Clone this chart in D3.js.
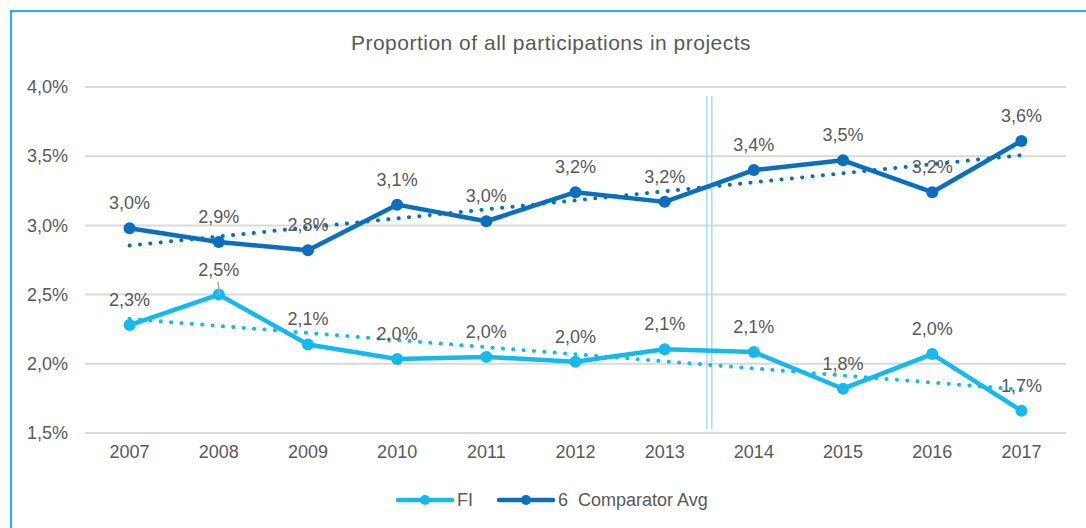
<!DOCTYPE html>
<html>
  <head>
    <meta charset="utf-8">
    <title>Proportion of all participations in projects</title>
    <style type="text/css">
      body {
        margin: 0;
        background: #fff;
        font-family: "Liberation Sans", Arial, sans-serif;
      }
      svg text {
        fill: #595959;
      }
      .grid line {
        stroke: #d9d9d9;
        stroke-width: 2px;
      }
      .tick-label {
        font-size: 18px;
      }
      .data-label {
        font-size: 18px;
      }
      .title {
        font-size: 21px;
        letter-spacing: 0.5px;
      }
    </style>
  </head>
  <body>
    <script src="https://cdn.jsdelivr.net/npm/d3@7"></script>
    <script>
    // data
    var years = ["2007", "2008", "2009", "2010", "2011", "2012", "2013", "2014", "2015", "2016", "2017"];
    var fiValues = [2.28, 2.50, 2.14, 2.035, 2.05, 2.015, 2.105, 2.085, 1.82, 2.07, 1.66];
    var fiLabels = ["2,3%", "2,5%", "2,1%", "2,0%", "2,0%", "2,0%", "2,1%", "2,1%", "1,8%", "2,0%", "1,7%"];
    var compValues = [2.98, 2.88, 2.82, 3.15, 3.03, 3.24, 3.17, 3.40, 3.47, 3.24, 3.61];
    var compLabels = ["3,0%", "2,9%", "2,8%", "3,1%", "3,0%", "3,2%", "3,2%", "3,4%", "3,5%", "3,2%", "3,6%"];
    var yTicks = [1.5, 2.0, 2.5, 3.0, 3.5, 4.0];
    var seriesNames = ["FI", "6  Comparator Avg"];
    var seriesColors = ["#14b9ee", "#0a6fbe"];

    var W = 1086, H = 528;

    var x = d3.scaleBand()
        .domain(years)
        .range([85, 1066]);

    var y = d3.scaleLinear()
        .domain([1.5, 4.0])
        .range([433, 87]);

    var cx = function(d, i) { return x(years[i]) + x.bandwidth() / 2; };

    var svg = d3.select("body").append("svg")
        .attr("width", W)
        .attr("height", H);

    // outer frame (runs off the right and bottom edges)
    svg.append("rect")
        .attr("x", 11).attr("y", 11)
        .attr("width", 1100).attr("height", 540)
        .attr("fill", "none")
        .attr("stroke", "#23b4ea")
        .attr("stroke-width", 2);

    svg.append("text")
        .attr("class", "title")
        .attr("x", 551)
        .attr("y", 50)
        .attr("text-anchor", "middle")
        .text("Proportion of all participations in projects");

    // gridlines
    svg.append("g")
        .attr("class", "grid")
      .selectAll("line")
      .data(yTicks)
      .enter().append("line")
        .attr("x1", x.range()[0])
        .attr("x2", x.range()[1])
        .attr("y1", function(d) { return y(d); })
        .attr("y2", function(d) { return y(d); });

    // y axis labels
    var yAxis = d3.axisLeft(y)
        .tickValues(yTicks)
        .tickSize(0)
        .tickPadding(0)
        .tickFormat(function(d) { return d3.format(".1f")(d).replace(".", ",") + "%"; });

    svg.append("g")
        .attr("transform", "translate(68,0)")
        .call(yAxis)
        .call(function(g) { g.select(".domain").remove(); })
        .selectAll("text")
          .attr("class", "tick-label")
          .attr("font-family", null)
          .attr("font-size", null)
          .attr("fill", null);

    // x axis labels
    var xAxis = d3.axisBottom(x)
        .tickSize(0)
        .tickPadding(0);

    svg.append("g")
        .attr("transform", "translate(0,445)")
        .call(xAxis)
        .call(function(g) { g.select(".domain").remove(); })
        .selectAll("text")
          .attr("class", "tick-label")
          .attr("font-family", null)
          .attr("font-size", null)
          .attr("fill", null);

    // separator between 2013 and 2014
    var sepX = x("2014") - (x.step() - x.bandwidth()) / 2;
    [-2.5, 2.5].forEach(function(off) {
      svg.append("line")
          .attr("x1", sepX + off).attr("x2", sepX + off)
          .attr("y1", 96).attr("y2", 429)
          .attr("stroke", "#a6def7")
          .attr("stroke-width", 1.5);
    });

    // linear trend line (least squares)
    function trend(vals) {
      var n = vals.length;
      var mx = d3.mean(vals, function(d, i) { return i; });
      var my = d3.mean(vals);
      var sxy = d3.sum(vals, function(d, i) { return (i - mx) * (d - my); });
      var sxx = d3.sum(vals, function(d, i) { return (i - mx) * (i - mx); });
      var b = sxy / sxx, a = my - b * mx;
      return [0, n - 1].map(function(i) { return [i, a + b * i]; });
    }

    var line = d3.line()
        .x(cx)
        .y(function(d) { return y(d); });

    function drawSeries(vals, labels, color) {
      var t = trend(vals);
      svg.append("line")
          .attr("x1", x(years[t[0][0]]) + x.bandwidth() / 2)
          .attr("y1", y(t[0][1]))
          .attr("x2", x(years[t[1][0]]) + x.bandwidth() / 2)
          .attr("y2", y(t[1][1]))
          .attr("stroke", color)
          .attr("stroke-width", 4)
          .attr("stroke-linecap", "round")
          .attr("stroke-dasharray", "0.1 10.3");

      svg.append("path")
          .datum(vals)
          .attr("d", line)
          .attr("fill", "none")
          .attr("stroke", color)
          .attr("stroke-width", 4.5)
          .attr("stroke-linejoin", "round");

      svg.append("g").selectAll("circle")
          .data(vals)
          .enter().append("circle")
            .attr("cx", cx)
            .attr("cy", function(d) { return y(d); })
            .attr("r", 6)
            .attr("fill", color);

      svg.append("g").selectAll("text")
          .data(vals)
          .enter().append("text")
            .attr("class", "data-label")
            .attr("x", cx)
            .attr("y", function(d) { return y(d) - 19; })
            .attr("text-anchor", "middle")
            .text(function(d, i) { return labels[i]; });
    }

    drawSeries(compValues, compLabels, seriesColors[1]);
    drawSeries(fiValues, fiLabels, seriesColors[0]);

    // leader line on the 2008 FI label
    svg.append("line")
        .attr("x1", x("2008") + x.bandwidth() / 2 - 1)
        .attr("x2", x("2008") + x.bandwidth() / 2 + 1)
        .attr("y1", y(fiValues[1]) - 13)
        .attr("y2", y(fiValues[1]))
        .attr("stroke", "#a6a6a6")
        .attr("stroke-width", 1.5);

    // legend
    var legendX = [398, 499];
    var legend = svg.append("g").selectAll("g")
        .data(seriesNames)
        .enter().append("g")
          .attr("transform", function(d, i) { return "translate(" + legendX[i] + ",500)"; });

    legend.append("line")
        .attr("x1", 0).attr("x2", 54)
        .attr("stroke", function(d, i) { return seriesColors[i]; })
        .attr("stroke-width", 4.5)
        .attr("stroke-linecap", "round");

    legend.append("circle")
        .attr("cx", 27)
        .attr("r", 5)
        .attr("fill", function(d, i) { return seriesColors[i]; });

    legend.append("text")
        .attr("class", "tick-label")
        .attr("x", 59)
        .attr("dy", "0.35em")
        .style("white-space", "pre")
        .text(function(d) { return d; });
    </script>
  </body>
</html>
